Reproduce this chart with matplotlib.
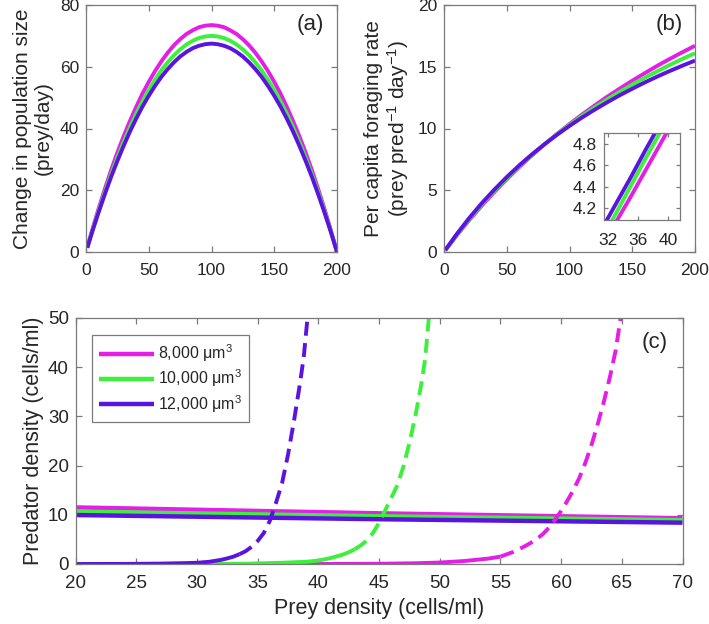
import matplotlib
matplotlib.use("Agg")
import matplotlib.pyplot as plt
import numpy as np

plt.rcParams["font.family"] = ["Liberation Sans", "DejaVu Sans"]
plt.rcParams["mathtext.fontset"] = "custom"
plt.rcParams["mathtext.rm"] = "Liberation Sans"
plt.rcParams["mathtext.it"] = "Liberation Sans:italic"
plt.rcParams["mathtext.default"] = "regular"

# ---------------------------------------------------------------------------
# Data
# ---------------------------------------------------------------------------
labels = ["8,000 μm$^3$", "10,000 μm$^3$", "12,000 μm$^3$"]
colors = ["#e41ee6", "#3cf03c", "#5b14e0"]

# (a) change in population size
x_a = [1, 5, 10, 15, 20, 25, 30, 35, 40, 45, 50, 55, 60, 65, 70, 75, 80, 85,
       90, 95, 100, 105, 110, 115, 120, 125, 130, 135, 140, 145, 150, 155,
       160, 165, 170, 175, 180, 185, 190, 195, 200]
growth_8k = [1.5, 7.2, 14.0, 20.4, 26.5, 32.2, 37.5, 42.4, 47.0, 51.3, 55.1,
             58.6, 61.7, 64.5, 66.9, 68.9, 70.6, 71.8, 72.8, 73.3, 73.5,
             73.3, 72.8, 71.8, 70.6, 68.9, 66.9, 64.5, 61.7, 58.6, 55.1,
             51.3, 47.0, 42.4, 37.5, 32.2, 26.5, 20.4, 14.0, 7.2, 0.0]
growth_10k = [1.4, 6.8, 13.3, 19.4, 25.2, 30.6, 35.7, 40.4, 44.8, 48.8, 52.5,
              55.8, 58.8, 61.4, 63.7, 65.6, 67.2, 68.4, 69.3, 69.8, 70.0,
              69.8, 69.3, 68.4, 67.2, 65.6, 63.7, 61.4, 58.8, 55.8, 52.5,
              48.8, 44.8, 40.4, 35.7, 30.6, 25.2, 19.4, 13.3, 6.8, 0.0]
growth_12k = [1.35, 6.6, 12.8, 18.7, 24.3, 29.5, 34.4, 39.0, 43.2, 47.1, 50.6,
              53.8, 56.7, 59.2, 61.4, 63.3, 64.8, 66.0, 66.8, 67.3, 67.5,
              67.3, 66.8, 66.0, 64.8, 63.3, 61.4, 59.2, 56.7, 53.8, 50.6,
              47.1, 43.2, 39.0, 34.4, 29.5, 24.3, 18.7, 12.8, 6.6, 0.0]

# (b) per capita foraging rate
x_b = [1, 10, 20, 30, 40, 50, 60, 70, 80, 90, 100,
       110, 120, 130, 140, 150, 160, 170, 180, 190, 200]
forage_8k = [0.14, 1.32, 2.57, 3.74, 4.84, 5.89, 6.88, 7.82, 8.71, 9.55, 10.36,
             11.13, 11.86, 12.57, 13.23, 13.87, 14.48, 15.08, 15.64, 16.18, 16.7]
forage_10k = [0.14, 1.37, 2.65, 3.84, 4.94, 5.98, 6.95, 7.86, 8.72, 9.53, 10.29,
              11.02, 11.70, 12.35, 12.97, 13.55, 14.11, 14.64, 15.15, 15.64, 16.1]
forage_12k = [0.15, 1.43, 2.74, 3.94, 5.04, 6.07, 7.02, 7.90, 8.72, 9.49, 10.21,
              10.89, 11.52, 12.12, 12.69, 13.22, 13.73, 14.21, 14.66, 15.09, 15.5]

# (b) inset
x_inset = [31, 33, 35, 37, 39, 41]
inset_8k = [3.81, 4.06, 4.30, 4.55, 4.80, 5.05]
inset_10k = [3.89, 4.14, 4.40, 4.66, 4.91, 5.17]
inset_12k = [3.98, 4.23, 4.48, 4.74, 4.99, 5.24]

# (c) predator nullclines (nearly flat)
x_pred = [20, 45, 70]
pred_8k = [11.5, 10.3, 9.3]
pred_10k = [10.65, 9.7, 8.9]
pred_12k = [9.95, 9.1, 8.4]

# (c) prey nullclines (rising), solid below split, dashed above
x_prey_8k = [20, 40, 45, 48, 50, 52, 54, 55, 56, 57, 57.5, 58, 58.5, 59,
             59.5, 60, 60.5, 61, 61.5, 62, 62.5, 63, 63.5, 64, 64.5, 64.9]
prey_8k = [0.0, 0.0, 0.05, 0.15, 0.3, 0.6, 1.1, 1.5, 2.4, 3.6, 4.3, 5.1, 6.1,
           7.4, 9.0, 10.8, 12.8, 15.0, 17.5, 20.6, 24.2, 28.3, 32.8, 37.8,
           43.5, 50.0]
x_prey_10k = [20, 30, 34, 37, 39, 40, 41, 42, 42.5, 43, 43.5, 44, 44.5, 45,
              45.5, 46, 46.5, 47, 47.5, 48, 48.5, 48.8, 49.1]
prey_10k = [0.0, 0.0, 0.05, 0.25, 0.45, 0.7, 1.2, 1.9, 2.4, 3.0, 3.8, 4.8, 6.3,
            8.4, 10.9, 13.4, 16.0, 19.8, 24.6, 30.2, 36.9, 41.8, 50.0]
x_prey_12k = [20, 24, 27, 29, 30, 31, 32, 32.5, 33, 33.5, 34, 34.5, 35, 35.5,
              36, 36.5, 37, 37.5, 38, 38.5, 38.8, 39.1]
prey_12k = [0.0, 0.02, 0.08, 0.18, 0.25, 0.45, 0.85, 1.15, 1.5, 2.0, 2.6, 3.5,
            4.7, 6.3, 8.8, 12.4, 16.4, 22.3, 29.3, 37.0, 42.3, 50.0]
split_x = [55.0, 43.0, 33.5]

# ---------------------------------------------------------------------------
# Style helpers
# ---------------------------------------------------------------------------
LW = 2.8
AXIS_COLOR = "#7a7a7a"
TEXT_COLOR = "#262626"


def style_axes(ax, tick_size=12.5, xpad=8, ypad=5):
    for sp in ax.spines.values():
        sp.set_color(AXIS_COLOR)
        sp.set_linewidth(0.9)
    ax.tick_params(direction="in", top=True, right=True, length=4,
                   width=0.9, color=AXIS_COLOR, labelcolor=TEXT_COLOR,
                   labelsize=tick_size)
    ax.tick_params(axis="x", pad=xpad)
    ax.tick_params(axis="y", pad=ypad)


fig = plt.figure(figsize=(7.09, 6.24), dpi=100)

# ----------------------------
# (a)
# ----------------------------
ax_a = fig.add_axes([86 / 709, 1 - 252 / 624, 251 / 709, 247 / 624])
for y, c in zip([growth_8k, growth_10k, growth_12k], colors):
    ax_a.plot(x_a, y, color=c, lw=LW, solid_capstyle="butt")
ax_a.set_xlim(0, 200)
ax_a.set_ylim(0, 80)
ax_a.set_xticks([0, 50, 100, 150, 200])
ax_a.set_yticks([0, 20, 40, 60, 80])
ax_a.set_ylabel("Change in population size\n(prey/day)", fontsize=15,
                color=TEXT_COLOR, linespacing=1.1, labelpad=5)
ax_a.text(0.95, 0.92, "(a)", transform=ax_a.transAxes, ha="right", va="center",
          fontsize=16, color=TEXT_COLOR)
style_axes(ax_a)

# ----------------------------
# (b)
# ----------------------------
ax_b = fig.add_axes([444 / 709, 1 - 252 / 624, 251 / 709, 247 / 624])
for y, c in zip([forage_8k, forage_10k, forage_12k], colors):
    ax_b.plot(x_b, y, color=c, lw=LW, solid_capstyle="butt")
ax_b.set_xlim(0, 200)
ax_b.set_ylim(0, 20)
ax_b.set_xticks([0, 50, 100, 150, 200])
ax_b.set_yticks([0, 5, 10, 15, 20])
ax_b.set_ylabel("Per capita foraging rate\n(prey pred$^{-1}$ day$^{-1}$)",
                fontsize=15, color=TEXT_COLOR, linespacing=1.1, labelpad=5)
ax_b.text(0.95, 0.92, "(b)", transform=ax_b.transAxes, ha="right", va="center",
          fontsize=16, color=TEXT_COLOR)
style_axes(ax_b)

ax_in = fig.add_axes([604 / 709, 1 - 220 / 624, 76 / 709, 87 / 624])
for y, c in zip([inset_8k, inset_10k, inset_12k], colors):
    ax_in.plot(x_inset, y, color=c, lw=LW, solid_capstyle="butt")
ax_in.set_xlim(31.5, 41.6)
ax_in.set_ylim(4.09, 4.9)
ax_in.set_xticks([32, 36, 40])
ax_in.set_yticks([4.2, 4.4, 4.6, 4.8])
style_axes(ax_in, tick_size=12.5, xpad=9, ypad=5)
ax_in.tick_params(length=3)

# ----------------------------
# (c)
# ----------------------------
ax_c = fig.add_axes([75.7 / 709, 1 - 564 / 624, 606.8 / 709, 246 / 624])
for y, c, lab in zip([pred_8k, pred_10k, pred_12k], colors, labels):
    ax_c.plot(x_pred, y, color=c, lw=LW + 0.4, label=lab,
              solid_capstyle="butt")
for xs, ys, c, sx in zip([x_prey_8k, x_prey_10k, x_prey_12k],
                         [prey_8k, prey_10k, prey_12k], colors, split_x):
    xs = np.asarray(xs)
    ys = np.asarray(ys)
    lo = xs <= sx
    hi = xs >= sx
    # bridge the split point so the solid and dashed parts meet
    ys_split = np.interp(sx, xs, ys)
    xs_lo = np.append(xs[lo], sx)
    ys_lo = np.append(ys[lo], ys_split)
    xs_hi = np.insert(xs[hi], 0, sx)
    ys_hi = np.insert(ys[hi], 0, ys_split)
    ax_c.plot(xs_lo, ys_lo, color=c, lw=LW, solid_capstyle="butt")
    ax_c.plot(xs_hi, ys_hi, color=c, lw=LW, dashes=(3.6, 1.9),
              dash_capstyle="butt")
ax_c.set_xlim(20, 70)
ax_c.set_ylim(0, 50)
ax_c.set_xticks(np.arange(20, 71, 5))
ax_c.set_yticks(np.arange(0, 51, 10))
ax_c.set_xlabel("Prey density (cells/ml)", fontsize=15.5, color=TEXT_COLOR,
                labelpad=4)
ax_c.set_ylabel("Predator density (cells/ml)", fontsize=15.5,
                color=TEXT_COLOR, labelpad=3)
ax_c.text(0.975, 0.9, "(c)", transform=ax_c.transAxes, ha="right",
          va="center", fontsize=16, color=TEXT_COLOR)
style_axes(ax_c, tick_size=13.5, xpad=8, ypad=5)

leg = ax_c.legend(loc="upper left", bbox_to_anchor=(0.027, 0.93),
                  fontsize=11.5, frameon=True, fancybox=False,
                  handlelength=3.4, handletextpad=0.25, borderpad=0.45,
                  labelspacing=0.22, borderaxespad=0.0)
leg.get_frame().set_edgecolor(AXIS_COLOR)
leg.get_frame().set_linewidth(0.9)
leg.get_frame().set_alpha(1)
for t in leg.get_texts():
    t.set_color(TEXT_COLOR)

fig.savefig("out.png", dpi=100)
